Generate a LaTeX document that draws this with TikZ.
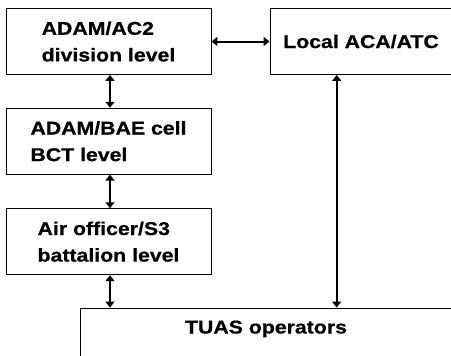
\documentclass[tikz,border=0pt]{standalone}
\usepackage{fontspec}
\setmainfont[BoldFeatures={FakeBold=0.6}]{Liberation Sans}
\usetikzlibrary{arrows.meta}
\newcommand{\hs}[1]{\scalebox{1.15}[1]{#1}}
\begin{document}
\begin{tikzpicture}[x=1pt,y=-1pt,
  boxnode/.style={draw, line width=0.9pt, minimum width=205pt, minimum height=66pt, inner sep=0pt, align=left,
    font=\bfseries\fontsize{18.5}{26.6}\selectfont},
  link/.style={line width=2pt, {Triangle[length=6pt,width=9pt]}-{Triangle[length=6pt,width=9pt]}}]
\clip (0,0) rectangle (451,356);
\node[boxnode] (div) at (108.5,41.5) {\hs{ADAM/AC2}\\\hs{division level}};
\node[boxnode] (bct) at (108.5,141.2) {\hs{ADAM/BAE cell}\\\hs{BCT level}};
\node[boxnode] (bat) at (108.5,241.7) {\hs{Air officer/S3}\\\hs{battalion level}};
\node[boxnode, minimum width=182pt] (aca) at (361,41.5) {\hs{Local ACA/ATC}};
\node[boxnode, minimum width=372pt, minimum height=60pt, text height=13pt, text depth=22pt] (tuas) at (266,338) {\hs{TUAS operators}};
\draw[link] (div.east) -- (aca.west);
\draw[link] (div.south -| 110,0) -- (bct.north -| 110,0);
\draw[link] (bct.south -| 110,0) -- (bat.north -| 110,0);
\draw[link] (bat.south -| 110,0) -- (tuas.north -| 110,0);
\draw[link] (aca.south -| 336.7,0) -- (tuas.north -| 336.7,0);
\end{tikzpicture}
\end{document}
